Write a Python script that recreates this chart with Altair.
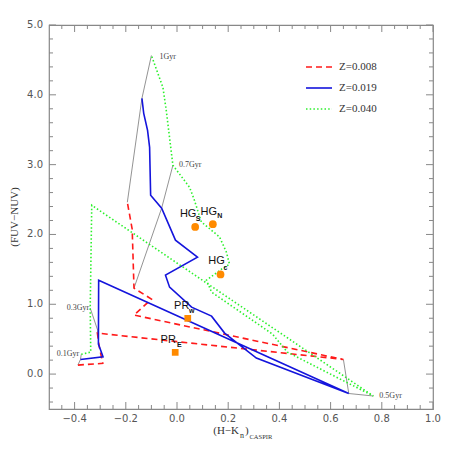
import altair as alt
import pandas as pd

# ---------------- data ----------------
series_names = ["Z=0.008", "Z=0.019", "Z=0.040"]

red_x = [-0.387, -0.290, -0.304, -0.311, 0.650, -0.168, -0.100, -0.168, -0.175, -0.194]
red_y = [0.129, 0.154, 0.401, 0.587, 0.210, 0.845, 1.074, 1.231, 2.075, 2.461]

blue_x = [-0.377, -0.289, -0.307, -0.306, 0.671, 0.310, 0.186, 0.135, 0.057, -0.029,
          -0.045, 0.080, -0.006, -0.060, -0.103, -0.107, -0.115, -0.130, -0.137]
blue_y = [0.210, 0.248, 0.430, 1.345, -0.278, 0.230, 0.587, 0.830, 0.959, 1.245,
          1.417, 1.675, 1.918, 2.376, 2.562, 3.248, 3.491, 3.735, 3.949]

green_x = [-0.374, -0.337, -0.339, -0.333, 0.767, 0.431, 0.373, 0.135, 0.115, 0.174,
           0.205, 0.193, 0.166, 0.095, 0.068, 0.049, -0.016, -0.042, -0.055, -0.100]
green_y = [0.283, 0.315, 0.945, 2.418, -0.314, 0.315, 0.573, 1.174, 1.345, 1.503,
           1.574, 1.746, 1.965, 2.180, 2.490, 2.676, 2.991, 3.778, 4.107, 4.564]

age_names = ["0.1Gyr", "0.3Gyr", "0.5Gyr", "0.7Gyr", "1Gyr"]
# iso-age connectors (Z=0.040, Z=0.019, Z=0.008)
age_x = [[-0.374, -0.377, -0.387], [-0.339, -0.310, -0.311], [0.767, 0.671, 0.650],
         [-0.016, -0.060, -0.168], [-0.100, -0.137, -0.194]]
age_y = [[0.283, 0.210, 0.129], [0.945, 0.630, 0.587], [-0.314, -0.278, 0.210],
         [2.991, 2.376, 1.231], [4.564, 3.949, 2.461]]

hg_sub = ["S", "N", "c"]
hg_x = [0.071, 0.140, 0.170]
hg_y = [2.108, 2.147, 1.427]

pr_sub = ["w", "E"]
pr_x = [0.042, -0.007]
pr_y = [0.798, 0.311]

x_labels = [-0.4, -0.2, 0.0, 0.2, 0.4, 0.6, 0.8, 1.0]
y_labels = [0.0, 1.0, 2.0, 3.0, 4.0, 5.0]
x_minor = [round(-0.5 + 0.05 * k, 2) for k in range(1, 30)]
x_minor = [v for v in x_minor if all(abs(v - m) > 1e-6 for m in x_labels)]
y_minor = [round(-0.4 + 0.2 * k, 1) for k in range(0, 27)]
y_minor = [v for v in y_minor if all(abs(v - m) > 1e-6 for m in y_labels)]

# ---------------- style ----------------
W = H = 384
RED, BLUE, GREEN, ORANGE, GREY = "#ff1a1a", "#1414dc", "#2cf02c", "#ff8a00", "#777777"
FRAME = "#888888"
SERIF = "Liberation Serif"

xs = alt.Scale(domain=[-0.5, 1.0], nice=False, zero=False)
ys = alt.Scale(domain=[-0.5, 5.0], nice=False, zero=False)


def X(f="x"):
    return alt.X(f + ":Q", scale=xs, axis=None)


def Y(f="y"):
    return alt.Y(f + ":Q", scale=ys, axis=None)


def track(xv, yv):
    return pd.DataFrame({"x": xv, "y": yv, "i": list(range(len(xv)))})


def fmt(v):
    return f"{v:.1f}".replace("-", "\u2212")


layers = []

# inward ticks on all four sides
def tick_layer(vals, axis, side, length):
    d = pd.DataFrame({"v": vals})
    c = alt.Chart(d).mark_rule(color=FRAME, strokeWidth=1)
    if axis == "x":
        if side == "bottom":
            return c.encode(x=X("v"), y=alt.value(H), y2=alt.value(H - length))
        return c.encode(x=X("v"), y=alt.value(0), y2=alt.value(length))
    if side == "left":
        return c.encode(y=Y("v"), x=alt.value(0), x2=alt.value(length))
    return c.encode(y=Y("v"), x=alt.value(W), x2=alt.value(W - length))


for side in ["bottom", "top"]:
    layers.append(tick_layer(x_labels, "x", side, 7))
    layers.append(tick_layer(x_minor, "x", side, 4))
for side in ["left", "right"]:
    layers.append(tick_layer(y_labels, "y", side, 7))
    layers.append(tick_layer(y_minor, "y", side, 4))

# tick labels
xl = pd.DataFrame({"v": x_labels, "t": [fmt(v) for v in x_labels]})
layers.append(alt.Chart(xl).mark_text(
    align="center", baseline="middle", font="DejaVu Sans", fontSize=10, color="#555").encode(
    x=X("v"), y=alt.value(H + 10), text="t:N"))
yl = pd.DataFrame({"v": y_labels, "t": [fmt(v) for v in y_labels]})
layers.append(alt.Chart(yl).mark_text(
    align="right", baseline="middle", font="DejaVu Sans", fontSize=10, color="#555").encode(
    y=Y("v"), x=alt.value(-6), text="t:N"))

# iso-age grey connectors
rows = []
for name, ax, ay in zip(age_names, age_x, age_y):
    for k, (a, b) in enumerate(zip(ax, ay)):
        rows.append({"age": name, "x": a, "y": b, "i": k})
age_df = pd.DataFrame(rows)
layers.append(alt.Chart(age_df).mark_line(color=GREY, strokeWidth=0.8).encode(
    x=X(), y=Y(), detail="age:N", order="i:Q"))

# tracks
layers.append(alt.Chart(track(red_x, red_y)).mark_line(
    color=RED, strokeWidth=1.6, strokeDash=[6, 4]).encode(x=X(), y=Y(), order="i:Q"))
layers.append(alt.Chart(track(blue_x, blue_y)).mark_line(
    color=BLUE, strokeWidth=1.6).encode(x=X(), y=Y(), order="i:Q"))
layers.append(alt.Chart(track(green_x, green_y)).mark_line(
    color=GREEN, strokeWidth=1.6, strokeDash=[1.5, 2.2]).encode(x=X(), y=Y(), order="i:Q"))

# age labels (at the Z=0.040 point)
lab_style = {"0.1Gyr": ("right", -2, 0), "0.3Gyr": ("right", -1, 0),
             "0.5Gyr": ("left", 6, 0), "0.7Gyr": ("left", 6, 0), "1Gyr": ("left", 8, 2)}
for name, ax, ay in zip(age_names, age_x, age_y):
    al, dx, dy = lab_style[name]
    d = pd.DataFrame({"x": [ax[0]], "y": [ay[0]], "t": [name]})
    layers.append(alt.Chart(d).mark_text(
        align=al, baseline="middle", dx=dx, dy=dy, font=SERIF, fontSize=8, color="#444").encode(
        x=X(), y=Y(), text="t:N"))

# observed points
layers.append(alt.Chart(pd.DataFrame({"x": hg_x, "y": hg_y})).mark_point(
    shape="circle", filled=True, size=60, color=ORANGE, opacity=1).encode(x=X(), y=Y()))
layers.append(alt.Chart(pd.DataFrame({"x": pr_x, "y": pr_y})).mark_point(
    shape="square", filled=True, size=45, color=ORANGE, opacity=1).encode(x=X(), y=Y()))

hg_off = {"S": (-7, -13, 3, -8), "N": (-4, -12, 7, -8), "c": (-4, -13, 5, -6)}
pr_off = {"w": (-6, -12, 4, -7), "E": (-7, -12, 4, -7)}
for main, subs, px, py, off in [("HG", hg_sub, hg_x, hg_y, hg_off), ("PR", pr_sub, pr_x, pr_y, pr_off)]:
    for s, a, b in zip(subs, px, py):
        dxm, dym, dxs, dys = off[s]
        d = pd.DataFrame({"x": [a], "y": [b], "m": [main], "s": [s]})
        layers.append(alt.Chart(d).mark_text(
            align="center", baseline="middle", dx=dxm, dy=dym, font="Liberation Sans",
            fontSize=11, color="#111").encode(x=X(), y=Y(), text="m:N"))
        layers.append(alt.Chart(d).mark_text(
            align="center", baseline="middle", dx=dxs, dy=dys, font="Liberation Sans",
            fontSize=7, fontWeight="bold", color="#111").encode(x=X(), y=Y(), text="s:N"))

# legend
one = pd.DataFrame({"k": [0]})
leg = [(series_names[0], RED, [6, 4]), (series_names[1], BLUE, None), (series_names[2], GREEN, [1.5, 2.2])]
for j, (name, col, dash) in enumerate(leg):
    yy = 42 + 21 * j
    kw = {"strokeDash": dash} if dash else {}
    layers.append(alt.Chart(one).mark_rule(color=col, strokeWidth=1.6, **kw).encode(
        x=alt.value(257), x2=alt.value(283), y=alt.value(yy)))
    layers.append(alt.Chart(one).mark_text(
        align="left", baseline="middle", font=SERIF, fontSize=11, color="#333", text=name).encode(
        x=alt.value(290), y=alt.value(yy)))

# axis titles
layers.append(alt.Chart(one).mark_text(
    align="center", baseline="middle", angle=270, font=SERIF, fontSize=11, color="#333",
    text="(FUV\u2212NUV)").encode(x=alt.value(-34), y=alt.value(192)))
layers.append(alt.Chart(one).mark_text(
    align="right", baseline="middle", font=SERIF, fontSize=11, color="#333",
    text="(H\u2212K").encode(x=alt.value(190), y=alt.value(406)))
layers.append(alt.Chart(one).mark_text(
    align="left", baseline="middle", font=SERIF, fontSize=8, color="#333",
    text="n").encode(x=alt.value(191), y=alt.value(411)))
layers.append(alt.Chart(one).mark_text(
    align="left", baseline="middle", font=SERIF, fontSize=11, color="#333",
    text=")").encode(x=alt.value(196), y=alt.value(406)))
layers.append(alt.Chart(one).mark_text(
    align="left", baseline="middle", font=SERIF, fontSize=6.5, color="#333",
    text="CASPIR").encode(x=alt.value(200.5), y=alt.value(412)))

chart = alt.layer(*layers).properties(
    width=W, height=H,
    padding={"left": 41, "top": 17, "right": 15, "bottom": 39},
    autosize=alt.AutoSizeParams(type="none"),
).configure_view(stroke=FRAME, strokeWidth=1.2)

chart.save("out.html", embed_options={"renderer": "svg", "actions": False})
